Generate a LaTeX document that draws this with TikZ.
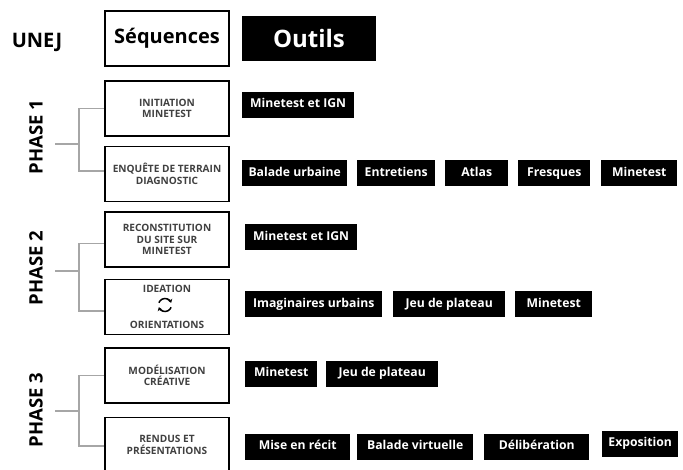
\documentclass[tikz,border=0pt]{standalone}
\usepackage{fontspec}
\setmainfont{Open Sans}
\usetikzlibrary{arrows.meta}

\begin{document}
\begin{tikzpicture}[x = 1pt, y = -1pt,
  seqbox/.style = {draw, line width = 1.6pt, minimum width = 124pt, minimum height = 55pt,
                   align = center, text = black!75, font = \fontsize{10.1}{11.5}\selectfont\bfseries},
  toolbox/.style = {fill = black, text = white, anchor = west, minimum height = 26pt,
                    text height = 0.75em, text depth = 0.22em,
                    inner xsep = 0pt, font = \fontsize{12.2}{14}\selectfont\bfseries},
  phaselabel/.style = {rotate = 90, font = \fontsize{18.5}{22}\selectfont\bfseries},
  bracket/.style = {black!35, line width = 1.2pt}]
\useasboundingbox (0,0) rectangle (683,470);

% Header
\node[font = \fontsize{20}{24}\selectfont\bfseries] (unej) at (37,42) {UNEJ};
\node[draw, line width = 1.6pt, minimum width = 124pt, minimum height = 55pt,
      font = \fontsize{20}{24}\selectfont\bfseries] (seq) at (167,38.5) {Séquences};
\node[fill = black, text = white, minimum width = 134pt, minimum height = 45pt,
      font = \fontsize{24}{28}\selectfont\bfseries] (outils) at (309,38.5) {Outils};

% Phase labels
\node[phaselabel] (ph1) at (36,137) {PHASE 1};
\node[phaselabel] (ph2) at (36,268) {PHASE 2};
\node[phaselabel] (ph3) at (36,410) {PHASE 3};

% Sequences
\node[seqbox] (init) at (167,108.5) {INITIATION\\MINETEST};
\node[seqbox] (enq) at (167,174) {ENQUÊTE DE TERRAIN\\DIAGNOSTIC};
\node[seqbox] (recon) at (167,239.5) {RECONSTITUTION\\DU SITE SUR\\MINETEST};
\node[seqbox] (idea) at (167,307) {IDEATION\\[24pt]ORIENTATIONS};
\node[seqbox] (model) at (167,375.5) {MODÉLISATION\\CRÉATIVE};
\node[seqbox] (rendus) at (167,445) {RENDUS ET\\PRÉSENTATIONS};

% Cycle icon between ideation and orientations
\coordinate (cyc) at (165,305);
\draw[line width = 1.5pt, -{Stealth[length = 3.5pt, width = 5pt]}] (cyc) ++(200:6.5) arc (200:340:6.5);
\draw[line width = 1.5pt, -{Stealth[length = 3.5pt, width = 5pt]}] (cyc) ++(20:6.5) arc (20:160:6.5);

% Brackets from phases to sequences
\coordinate (ph1s) at (55,144);
\coordinate (ph1j) at (79,144);
\draw[bracket] (ph1s) -- (ph1j);
\draw[bracket] (init.west) -| (ph1j) |- ([yshift = 3pt]enq.west);

\coordinate (ph2s) at (55,271);
\coordinate (ph2j) at (79,271);
\draw[bracket] (ph2s) -- (ph2j);
\draw[bracket] ([yshift = -4pt]recon.west) -| (ph2j) |- ([yshift = -4pt]idea.west);

\coordinate (ph3s) at (55,411);
\coordinate (ph3j) at (79,411);
\draw[bracket] (ph3s) -- (ph3j);
\draw[bracket] (model.west) -| (ph3j) |- ([yshift = -1pt]rendus.west);

% Tools phase 1
\node[toolbox, minimum width = 112pt] (t1a) at (242,105) {Minetest et IGN};
\foreach \x/\w/\t [count = \i] in {242/105/Balade urbaine, 357/78/Entretiens, 445/63/Atlas,
                                   518/72/Fresques, 601/76/Minetest}
  \node[toolbox, minimum width = \w pt] (t1b-\i) at (\x,173.5) {\t};

% Tools phase 2
\node[toolbox, minimum width = 112pt] (t2a) at (245,237.5) {Minetest et IGN};
\foreach \x/\w/\t [count = \i] in {245/137/Imaginaires urbains, 393/112/Jeu de plateau, 515/77/Minetest}
  \node[toolbox, minimum width = \w pt] (t2b-\i) at (\x,304.5) {\t};

% Tools phase 3
\foreach \x/\w/\t [count = \i] in {245/72/Minetest, 326/112/Jeu de plateau}
  \node[toolbox, minimum width = \w pt] (t3a-\i) at (\x,374) {\t};
\foreach \x/\y/\w/\t [count = \i] in {245/446.5/105/Mise en récit, 357/446.5/116/Balade virtuelle,
                                      484/446.5/105/Délibération, 602/444/76/Exposition}
  \node[toolbox, minimum width = \w pt] (t3b-\i) at (\x,\y) {\t};

\end{tikzpicture}
\end{document}
